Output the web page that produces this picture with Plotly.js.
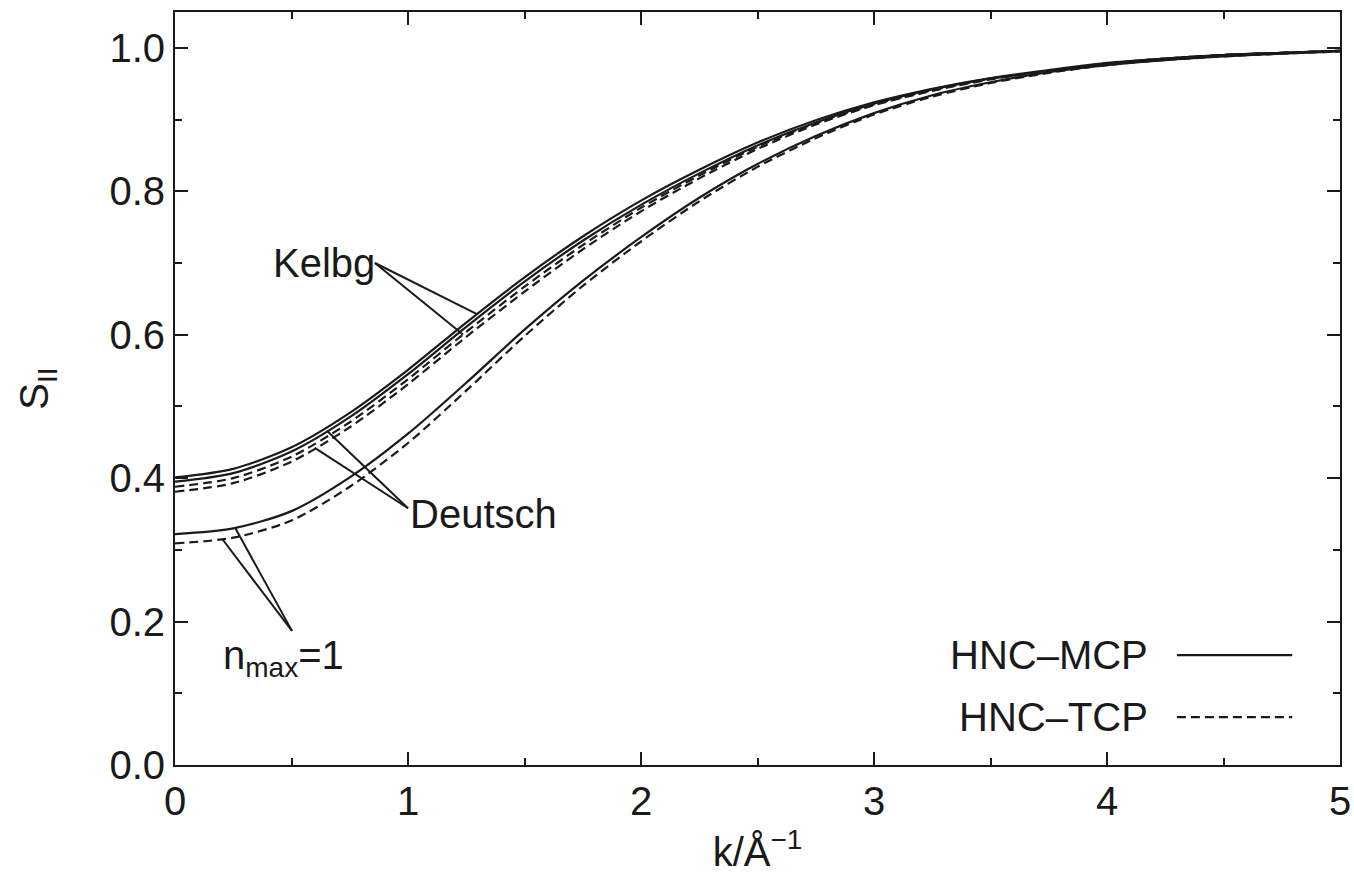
<!DOCTYPE html>
<html>
<head>
<meta charset="utf-8">
<script src="https://cdn.plot.ly/plotly-3.0.1.min.js"></script>
<style>html,body{margin:0;padding:0;background:#fff;}#chart{width:1354px;height:886px;}</style>
</head>
<body>
<div id="chart"></div>
<script>
// k values (1/Å)
const k = [0, 0.25, 0.5, 0.75, 1.0, 1.25, 1.5, 1.75, 2.0, 2.25, 2.5, 2.75, 3.0, 3.25, 3.5, 3.75, 4.0, 4.25, 4.5, 4.75, 5.0];

// S_II for each potential, HNC-MCP (solid) and HNC-TCP (dashed)
const kelbgMCP   = [0.401, 0.413, 0.443, 0.491, 0.551, 0.617, 0.680, 0.737, 0.787, 0.830, 0.868, 0.899, 0.924, 0.943, 0.958, 0.969, 0.979, 0.985, 0.990, 0.993, 0.996];
const deutschMCP = [0.395, 0.407, 0.437, 0.485, 0.545, 0.611, 0.674, 0.731, 0.781, 0.825, 0.864, 0.896, 0.922, 0.942, 0.957, 0.968, 0.978, 0.985, 0.990, 0.993, 0.996];
const kelbgTCP   = [0.388, 0.400, 0.430, 0.478, 0.538, 0.604, 0.667, 0.725, 0.777, 0.822, 0.862, 0.895, 0.921, 0.941, 0.957, 0.968, 0.978, 0.985, 0.990, 0.993, 0.996];
const deutschTCP = [0.381, 0.393, 0.423, 0.471, 0.531, 0.597, 0.660, 0.719, 0.772, 0.818, 0.859, 0.893, 0.920, 0.940, 0.956, 0.968, 0.978, 0.985, 0.990, 0.993, 0.996];
const nmaxMCP    = [0.322, 0.330, 0.354, 0.401, 0.462, 0.533, 0.607, 0.675, 0.736, 0.791, 0.838, 0.877, 0.909, 0.934, 0.952, 0.966, 0.976, 0.983, 0.988, 0.992, 0.995];
const nmaxTCP    = [0.309, 0.317, 0.341, 0.388, 0.449, 0.522, 0.598, 0.668, 0.730, 0.786, 0.834, 0.874, 0.907, 0.932, 0.951, 0.965, 0.976, 0.983, 0.988, 0.992, 0.995];

// labels
const legendNames = ["HNC\u2013MCP", "HNC\u2013TCP"];
const labelKelbg = "Kelbg";
const labelDeutsch = "Deutsch";
const labelNmax = "n<sub>max</sub>=1";

// leader-line anchors (k positions on curves) and label points
const kelbgLabelPt = [0.858, 0.70];
const kelbgLeaderK = [1.296, 1.236];
const deutschLabelPt = [1.0, 0.358];
const deutschLeaderK = [0.652, 0.60];
const nmaxLabelPt = [0.502, 0.187];
const nmaxLeaderK = [0.258, 0.202];

function interp(xs, ys, x) {
  for (let i = 0; i < xs.length - 1; i++) {
    if (x >= xs[i] && x <= xs[i + 1]) {
      const t = (x - xs[i]) / (xs[i + 1] - xs[i]);
      return ys[i] + t * (ys[i + 1] - ys[i]);
    }
  }
  return ys[ys.length - 1];
}

const lineSolid = {color: '#1a1a1a', width: 2.2, shape: 'spline', smoothing: 0.8};
const lineDash = {color: '#1a1a1a', width: 2.2, dash: '9px,5px', shape: 'spline', smoothing: 0.8};

const traces = [
  {x: k, y: kelbgMCP, mode: 'lines', line: lineSolid, name: legendNames[0], showlegend: false},
  {x: k, y: deutschMCP, mode: 'lines', line: lineSolid, name: legendNames[0], showlegend: false},
  {x: k, y: kelbgTCP, mode: 'lines', line: lineDash, name: legendNames[1], showlegend: false},
  {x: k, y: deutschTCP, mode: 'lines', line: lineDash, name: legendNames[1], showlegend: false},
  {x: k, y: nmaxMCP, mode: 'lines', line: lineSolid, name: legendNames[0], showlegend: false},
  {x: k, y: nmaxTCP, mode: 'lines', line: lineDash, name: legendNames[1], showlegend: false}
];

const leaderStyle = {color: '#1a1a1a', width: 2};
const shapes = [];
function addLeaders(pt, ks, series) {
  ks.forEach((kk, i) => {
    shapes.push({type: 'line', xref: 'x', yref: 'y', x0: pt[0], y0: pt[1], x1: kk, y1: interp(k, series[i], kk), line: leaderStyle});
  });
}
addLeaders(kelbgLabelPt, kelbgLeaderK, [kelbgMCP, kelbgTCP]);
addLeaders(deutschLabelPt, deutschLeaderK, [deutschMCP, deutschTCP]);
addLeaders(nmaxLabelPt, nmaxLeaderK, [nmaxMCP, nmaxTCP]);

// legend (text left, sample line right)
shapes.push({type: 'line', xref: 'paper', yref: 'paper', x0: 0.860, x1: 0.959, y0: 0.146, y1: 0.146, line: {color: '#1a1a1a', width: 2.2}});
shapes.push({type: 'line', xref: 'paper', yref: 'paper', x0: 0.860, x1: 0.959, y0: 0.0637, y1: 0.0637, line: {color: '#1a1a1a', width: 2.2, dash: '9px,5px'}});

const font = {family: 'Liberation Sans, Arial, Helvetica, sans-serif', size: 40, color: '#1a1a1a'};
const tickFont = {family: 'Liberation Sans, Arial, Helvetica, sans-serif', size: 40, color: '#1a1a1a'};

const annotations = [
  {x: kelbgLabelPt[0], y: kelbgLabelPt[1], xref: 'x', yref: 'y', text: labelKelbg, showarrow: false, xanchor: 'right', yanchor: 'middle', font: font, xshift: 2},
  {x: deutschLabelPt[0], y: deutschLabelPt[1], xref: 'x', yref: 'y', text: labelDeutsch, showarrow: false, xanchor: 'left', yanchor: 'middle', font: font, yshift: -6},
  {x: nmaxLabelPt[0], y: nmaxLabelPt[1], xref: 'x', yref: 'y', text: labelNmax, showarrow: false, xanchor: 'center', yanchor: 'top', font: font, xshift: -8},
  {x: 0.837, y: 0.146, xref: 'paper', yref: 'paper', text: legendNames[0], showarrow: false, xanchor: 'right', yanchor: 'middle', font: font},
  {x: 0.837, y: 0.0637, xref: 'paper', yref: 'paper', text: legendNames[1], showarrow: false, xanchor: 'right', yanchor: 'middle', font: font}
];

const axisCommon = {
  showgrid: false, zeroline: false, showline: true, linecolor: '#1a1a1a', linewidth: 2,
  mirror: 'allticks', ticks: 'inside', ticklen: 13, tickwidth: 2, tickcolor: '#1a1a1a',
  tickfont: tickFont
};

const layout = {
  width: 1354, height: 886,
  margin: {l: 175, r: 14, t: 12, b: 121},
  paper_bgcolor: '#fff', plot_bgcolor: '#fff',
  showlegend: false,
  font: font,
  xaxis: Object.assign({}, axisCommon, {
    range: [0, 5], dtick: 1, tick0: 0,
    minor: {dtick: 0.5, ticks: 'inside', ticklen: 7, tickwidth: 2, tickcolor: '#1a1a1a', showgrid: false},
    title: {text: 'k/Å<sup>\u22121</sup>', font: font, standoff: 16}
  }),
  yaxis: Object.assign({}, axisCommon, {
    range: [0, 1.05], dtick: 0.2, tick0: 0, tickformat: '.1f',
    minor: {dtick: 0.1, ticks: 'inside', ticklen: 7, tickwidth: 2, tickcolor: '#1a1a1a', showgrid: false},
    title: {text: 'S<sub>II</sub>', font: font, standoff: 48}
  }),
  shapes: shapes,
  annotations: annotations
};

Plotly.newPlot('chart', traces, layout, {displayModeBar: false, staticPlot: true});
</script>
</body>
</html>
